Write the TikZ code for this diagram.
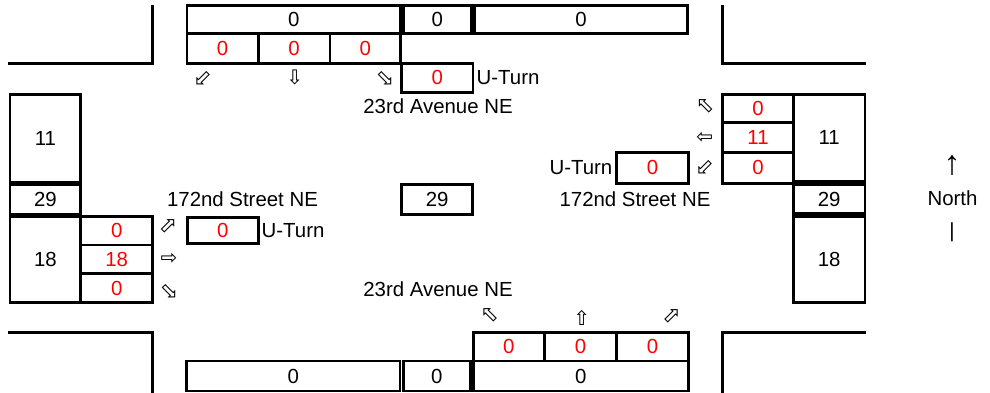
\documentclass[tikz,border=0pt]{standalone}
\usepackage{fontspec}
\setmainfont{Liberation Sans}
\newfontfamily\symfont{DejaVu Sans}
\newcommand\mainsize{\fontsize{20.4}{24}\selectfont}
\newcommand\straightsize{\symfont\fontsize{20}{24}\selectfont}
\newcommand\diagsize{\symfont\fontsize{22}{26}\selectfont}
\definecolor{cntred}{RGB}{255,0,0}
\tikzset{
  box/.style={draw, line width=2.8pt, inner sep=0pt, font=\mainsize},
  cnt/.style={box, text=cntred},
  lbl/.style={inner sep=0pt, font=\mainsize},
  turn/.style={inner sep=0pt, font=\straightsize},
  dturn/.style={inner sep=0pt, font=\diagsize},
  curb/.style={line width=2.8pt, line join=miter},
}
\begin{document}
\begin{tikzpicture}[x=1pt,y=-1pt]
\useasboundingbox (0,0) rectangle (990,393);

% curb corners
\draw[curb] (8.3,63.3) -- (152.7,63.3) -- (152.7,5);
\draw[curb] (722.7,5) -- (722.7,63.3) -- (865.7,63.3);
\draw[curb] (8.3,332.7) -- (152.7,332.7) -- (152.7,393);
\draw[curb] (722.7,393) -- (722.7,332.7) -- (865.7,332.7);

% north approach
\node[box, minimum width=213.5pt, minimum height=27.6pt] (tA) at (293.75,19.5) {0};
\node[box, minimum width=68.2pt,  minimum height=27.6pt] (tB) at (437.4,19.5) {0};
\node[box, minimum width=213.4pt, minimum height=27.6pt] (tC) at (581,19.5) {0};
\node[cnt, minimum width=71.3pt, minimum height=30pt] (tR1) at (222.65,48.3) {0};
\node[cnt, minimum width=71.7pt, minimum height=30pt] (tR2) at (294.15,48.3) {0};
\node[cnt, minimum width=70.5pt, minimum height=30pt] (tR3) at (365.25,48.3) {0};
\node[cnt, minimum width=71.3pt, minimum height=29pt] (tU) at (437.35,77.8) {0};
\node[lbl, anchor=west] (tUl) at (476.5,77.8) {U-Turn};
\node[dturn] (ta1) at (202.7,78.5) {⬃};
\node[turn] (ta2) at (294.7,77.5) {⇩};
\node[dturn] (ta3) at (385,78.5) {⬂};
\node[lbl] (tstreet) at (438,106.5) {23rd Avenue NE};

% west approach
\node[box, minimum width=70.7pt, minimum height=87.9pt] (lA) at (45.35,138.25) {11};
\node[box, minimum width=70.7pt, minimum height=29.2pt] (lB) at (45.35,199.6) {29};
\node[box, minimum width=70.7pt, minimum height=85.9pt] (lC) at (45.35,259.75) {18};
\node[cnt, minimum width=72pt, minimum height=28.2pt] (lR1) at (116.7,230.9) {0};
\node[cnt, minimum width=72pt, minimum height=28.3pt] (lR2) at (116.7,259.15) {18};
\node[cnt, minimum width=72pt, minimum height=29.4pt] (lR3) at (116.7,288) {0};
\node[dturn] (la1) at (168,226) {⬀};
\node[turn] (la2) at (169,259) {⇨};
\node[dturn] (la3) at (169,291) {⬂};
\node[cnt, minimum width=71pt, minimum height=26pt] (lU) at (222.8,230.3) {0};
\node[lbl, anchor=west] (lUl) at (261.5,230.3) {U-Turn};
\node[lbl] (lstreet) at (242.5,199.5) {172nd Street NE};

% centre
\node[box, minimum width=70.8pt, minimum height=30pt] (c29) at (437.1,199.3) {29};

% east approach
\node[cnt, minimum width=70.6pt, minimum height=28.4pt] (rR1) at (758,108.5) {0};
\node[cnt, minimum width=70.6pt, minimum height=29.6pt] (rR2) at (758,137.5) {11};
\node[cnt, minimum width=70.6pt, minimum height=31pt] (rR3) at (758,167.8) {0};
\node[box, minimum width=71.7pt, minimum height=87.2pt] (rA) at (829.15,137.9) {11};
\node[box, minimum width=71.7pt, minimum height=29.3pt] (rB) at (829.15,199.15) {29};
\node[box, minimum width=71.7pt, minimum height=86pt] (rC) at (829.15,259.7) {18};
\node[dturn] (ra1) at (705,106) {⬁};
\node[turn] (ra2) at (704.7,138) {⇦};
\node[dturn] (ra3) at (704.7,167) {⬃};
\node[cnt, minimum width=71.6pt, minimum height=31pt] (rU) at (652.5,167.8) {0};
\node[lbl, anchor=east] (rUl) at (612.5,167.8) {U-Turn};
\node[lbl] (rstreet) at (635,199.5) {172nd Street NE};

% south approach
\node[lbl] (bstreet) at (438,289) {23rd Avenue NE};
\node[dturn] (ba1) at (489.7,315) {⬁};
\node[turn] (ba2) at (581.7,318) {⇧};
\node[dturn] (ba3) at (671.7,316) {⬀};
\node[cnt, minimum width=71pt,   minimum height=28.3pt] (bR1) at (508.8,346.85) {0};
\node[cnt, minimum width=72.4pt, minimum height=28.3pt] (bR2) at (580.5,346.85) {0};
\node[cnt, minimum width=71.6pt, minimum height=28.3pt] (bR3) at (652.5,346.85) {0};
\node[box, minimum width=213.3pt, minimum height=30pt] (bA) at (293.35,376) {0};
\node[box, minimum width=67.2pt,  minimum height=30pt] (bB) at (436.9,376) {0};
\node[box, minimum width=214.8pt, minimum height=30pt] (bC) at (580.9,376) {0};

% north indicator
\node[inner sep=0pt, font=\fontsize{34}{36}\selectfont] (nup) at (952,165) {↑};
\node[lbl] (nword) at (952.5,198) {North};
\node[lbl] (nbar) at (952,232) {|};
\end{tikzpicture}
\end{document}
